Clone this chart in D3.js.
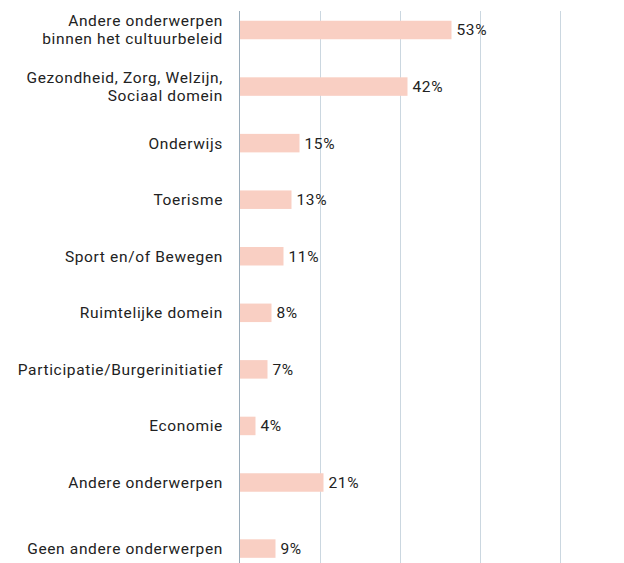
<!DOCTYPE html>
<html>
<head>
<meta charset="utf-8">
<script src="https://cdn.jsdelivr.net/npm/d3@7"></script>
<style>
  body { margin: 0; background: #fff; }
  svg text { font-family: Roboto, "Noto Sans", sans-serif; fill: #222; font-size: 15.5px; letter-spacing: 0.65px; }
</style>
</head>
<body>
<svg id="chart" width="624" height="563"></svg>
<script>
var categories = [
  ["Andere onderwerpen", "binnen het cultuurbeleid"],
  ["Gezondheid, Zorg, Welzijn,", "Sociaal domein"],
  ["Onderwijs"],
  ["Toerisme"],
  ["Sport en/of Bewegen"],
  ["Ruimtelijke domein"],
  ["Participatie/Burgerinitiatief"],
  ["Economie"],
  ["Andere onderwerpen"],
  ["Geen andere onderwerpen"]
];
var values = [53, 42, 15, 13, 11, 8, 7, 4, 21, 9];
var gridTicks = [20, 40, 60, 80];

var svg = d3.select("#chart"),
  margin = {top: 11, left: 239.5},
  barH = 18.5,
  extraGap = 9.5;

var keys = categories.map(function(d, i) { return i; });

var x = d3.scaleLinear()
  .domain([0, 80])
  .range([margin.left, 559.5]);

var y = d3.scaleBand()
  .domain(keys.slice(0, 9))
  .range([30 - 56.56 / 2, 482.5 + 56.56 / 2]);

function yc(i) {
  if (i === 9) return y(8) + y.step() + extraGap + y.bandwidth() / 2;
  return y(i) + y.bandwidth() / 2;
}

// gridlines
svg.append("g")
  .selectAll("line")
  .data(gridTicks)
  .enter().append("line")
  .attr("x1", function(d) { return Math.round(x(d)) + 0.5; })
  .attr("x2", function(d) { return Math.round(x(d)) + 0.5; })
  .attr("y1", margin.top)
  .attr("y2", 563)
  .attr("stroke", "#cbd7e0")
  .attr("stroke-width", 1);

// bars
svg.append("g")
  .selectAll("rect")
  .data(values)
  .enter().append("rect")
  .attr("x", x(0))
  .attr("y", function(d, i) { return yc(i) - barH / 2; })
  .attr("width", function(d) { return x(d) - x(0); })
  .attr("height", barH)
  .attr("fill", "#f9cfc3");

// axis line
svg.append("line")
  .attr("x1", x(0)).attr("x2", x(0))
  .attr("y1", margin.top).attr("y2", 563)
  .attr("stroke", "#9aacba")
  .attr("stroke-width", 1);

// value labels
svg.append("g")
  .selectAll("text")
  .data(values)
  .enter().append("text")
  .attr("x", function(d) { return x(d) + 5; })
  .attr("y", function(d, i) { return yc(i); })
  .attr("dy", "0.35em")
  .text(function(d) { return d + "%"; });

// category labels
var labels = svg.append("g")
  .selectAll("text")
  .data(categories)
  .enter().append("text")
  .attr("text-anchor", "end")
  .attr("y", function(d, i) { return yc(i) - (d.length - 1) * 9; });

labels.selectAll("tspan")
  .data(function(d) { return d; })
  .enter().append("tspan")
  .attr("x", 223)
  .attr("dy", function(d, j) { return j === 0 ? "0.35em" : 18; })
  .text(function(d) { return d; });
</script>
</body>
</html>
